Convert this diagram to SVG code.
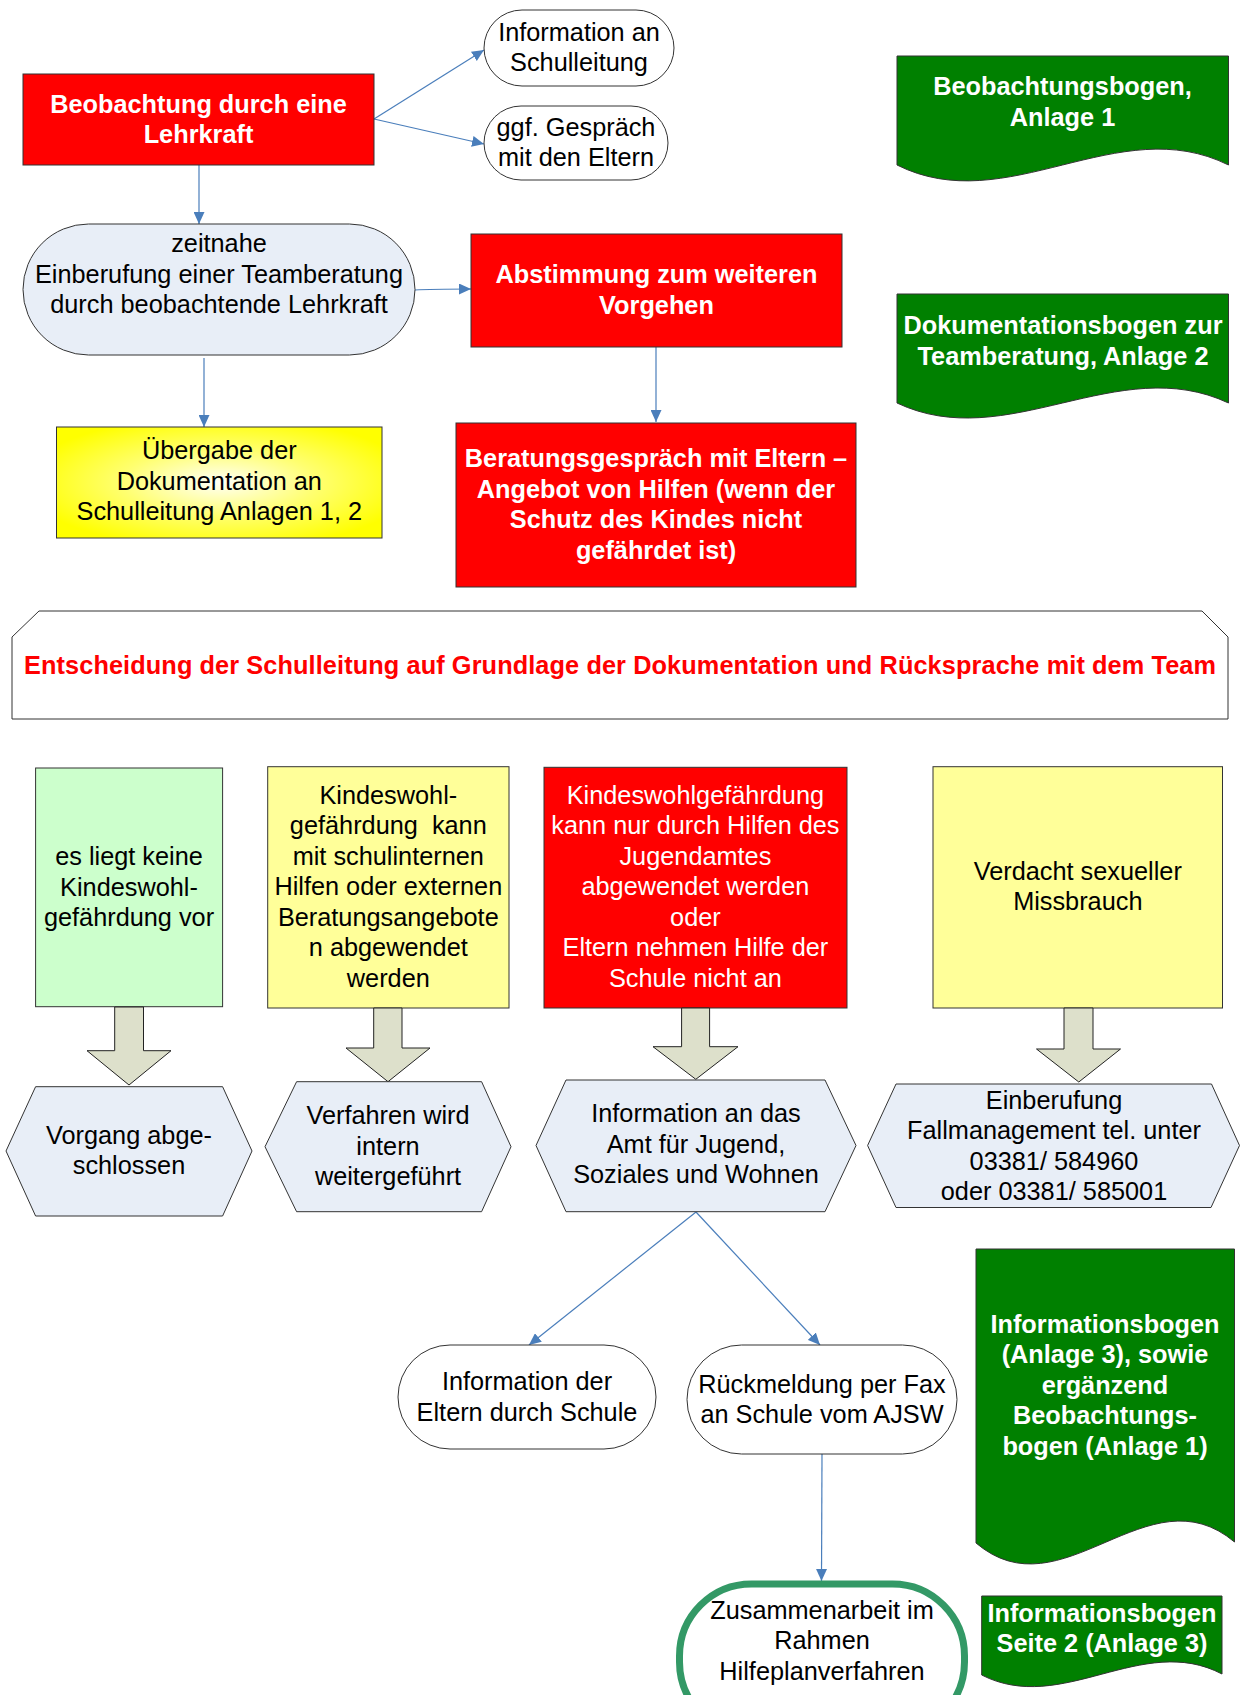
<svg xmlns="http://www.w3.org/2000/svg" width="1240" height="1695" viewBox="0 0 1240 1695">
<style>
text{font-family:"Liberation Sans",Arial,sans-serif;font-size:25.3px;text-anchor:middle}
.b{font-weight:bold}
.w{fill:#FFFFFF}
.k{fill:#000000}
.r{fill:#FF0000}
.pre{white-space:pre}
.red{fill:#FF0000;stroke:#333333;stroke-width:1}
.grn{fill:#008000;stroke:#333333;stroke-width:1}
.lb{fill:#E8EEF7;stroke:#333333;stroke-width:1}
.wh{fill:#FFFFFF;stroke:#333333;stroke-width:1}
.ba{fill:#DDE0CB;stroke:#222222;stroke-width:1}
.con{fill:none;stroke:#4A7EBB;stroke-width:1.2}
</style>
<defs>
<marker id="ah" markerUnits="userSpaceOnUse" markerWidth="12" markerHeight="11" refX="12" refY="5.5" orient="auto">
<path d="M0,0 L12,5.5 L0,11 z" fill="#4A7EBB"/>
</marker>
<radialGradient id="yg" cx="50%" cy="50%" r="60%">
<stop offset="0" stop-color="#FFFFF8"/>
<stop offset="0.5" stop-color="#FFFF70"/>
<stop offset="1" stop-color="#FFFF00"/>
</radialGradient>
</defs>

<g id="connectors">
<line class="con" x1="374" y1="119" x2="484" y2="50" marker-end="url(#ah)"/>
<line class="con" x1="374" y1="119" x2="484" y2="144" marker-end="url(#ah)"/>
<line class="con" x1="199" y1="165" x2="199" y2="224" marker-end="url(#ah)"/>
<path class="con" d="M415,290 Q430,289 471,289" marker-end="url(#ah)"/>
<line class="con" x1="204" y1="358" x2="204" y2="427" marker-end="url(#ah)"/>
<line class="con" x1="656" y1="347" x2="656" y2="422" marker-end="url(#ah)"/>
<line class="con" x1="696" y1="1212" x2="529" y2="1345" marker-end="url(#ah)"/>
<line class="con" x1="696" y1="1212" x2="820" y2="1345" marker-end="url(#ah)"/>
<line class="con" x1="822" y1="1454" x2="821.5" y2="1581" marker-end="url(#ah)"/>
</g>

<g id="n-beobachtung">
<rect class="red" x="23" y="74" width="351" height="91"/>
<text class="b w" x="198.5" y="112.5">Beobachtung durch eine</text>
<text class="b w" x="198.5" y="143">Lehrkraft</text>
</g>

<g id="n-info-schulleitung">
<rect class="wh" x="484" y="10" width="190" height="76" rx="38" ry="38"/>
<text class="k" x="579" y="40.5">Information an</text>
<text class="k" x="579" y="70.5">Schulleitung</text>
</g>

<g id="n-gespraech-eltern">
<rect class="wh" x="484" y="106" width="184" height="74" rx="37" ry="37"/>
<text class="k" x="576" y="135.5">ggf. Gespräch</text>
<text class="k" x="576" y="165.5">mit den Eltern</text>
</g>

<g id="n-beobachtungsbogen">
<path class="grn" d="M897,56 H1228.5 V165 C1118,110 1007,220 897,165 Z"/>
<text class="b w" x="1062.5" y="94.5">Beobachtungsbogen,</text>
<text class="b w" x="1062.5" y="125.5">Anlage 1</text>
</g>

<g id="n-teamberatung">
<rect class="lb" x="23" y="224" width="392" height="131" rx="65.5" ry="65.5"/>
<text class="k" x="219" y="252">zeitnahe</text>
<text class="k" x="219" y="282.5">Einberufung einer Teamberatung</text>
<text class="k" x="219" y="313">durch beobachtende Lehrkraft</text>
</g>

<g id="n-abstimmung">
<rect class="red" x="471" y="234" width="371" height="113"/>
<text class="b w" x="656.5" y="283">Abstimmung zum weiteren</text>
<text class="b w" x="656.5" y="313.5">Vorgehen</text>
</g>

<g id="n-dokumentationsbogen">
<path class="grn" d="M897,294 H1228.5 V403 C1118,351 1007,455 897,403 Z"/>
<text class="b w" x="1063" y="333.5">Dokumentationsbogen zur</text>
<text class="b w" x="1063" y="364.5">Teamberatung, Anlage 2</text>
</g>

<g id="n-uebergabe">
<rect x="56.5" y="427" width="325.5" height="111" fill="url(#yg)" stroke="#333333" stroke-width="1"/>
<text class="k" x="219.3" y="459">Übergabe der</text>
<text class="k" x="219.3" y="489.5">Dokumentation an</text>
<text class="k" x="219.3" y="520">Schulleitung Anlagen 1, 2</text>
</g>

<g id="n-beratungsgespraech">
<rect class="red" x="456" y="423" width="400" height="164"/>
<text class="b w" x="656" y="466.5">Beratungsgespräch mit Eltern –</text>
<text class="b w" x="656" y="497.5">Angebot von Hilfen (wenn der</text>
<text class="b w" x="656" y="528">Schutz des Kindes nicht</text>
<text class="b w" x="656" y="558.5">gefährdet ist)</text>
</g>

<g id="n-entscheidung">
<path d="M12,637 L39,611 H1202 L1228,637 V719 H12 Z" fill="#FFFFFF" stroke="#333333" stroke-width="1"/>
<text class="b r" x="620" y="674" textLength="1192" lengthAdjust="spacing">Entscheidung der Schulleitung auf Grundlage der Dokumentation und Rücksprache mit dem Team</text>
</g>

<g id="n-keine-gefaehrdung">
<rect x="35.6" y="768" width="187" height="238.7" fill="#CCFFCC" stroke="#333333" stroke-width="1"/>
<text class="k" x="129" y="865">es liegt keine</text>
<text class="k" x="129" y="895.5">Kindeswohl-</text>
<text class="k" x="129" y="926">gefährdung vor</text>
</g>

<g id="n-schulintern">
<rect x="267.7" y="766.7" width="241.3" height="241.3" fill="#FFFF99" stroke="#333333" stroke-width="1"/>
<text class="k" x="388.3" y="803.5">Kindeswohl-</text>
<text class="k pre" x="388.3" y="834">gefährdung  kann</text>
<text class="k" x="388.3" y="864.5">mit schulinternen</text>
<text class="k" x="388.3" y="895">Hilfen oder externen</text>
<text class="k" x="388.3" y="925.5">Beratungsangebote</text>
<text class="k" x="388.3" y="956">n abgewendet</text>
<text class="k" x="388.3" y="986.5">werden</text>
</g>

<g id="n-jugendamt">
<rect class="red" x="544" y="767.3" width="303" height="240.7"/>
<text class="w" x="695.4" y="803.5">Kindeswohlgefährdung</text>
<text class="w" x="695.4" y="834">kann nur durch Hilfen des</text>
<text class="w" x="695.4" y="864.5">Jugendamtes</text>
<text class="w" x="695.4" y="895">abgewendet werden</text>
<text class="w" x="695.4" y="925.5">oder</text>
<text class="w" x="695.4" y="956">Eltern nehmen Hilfe der</text>
<text class="w" x="695.4" y="986.5">Schule nicht an</text>
</g>

<g id="n-verdacht">
<rect x="933" y="766.7" width="289.5" height="241.3" fill="#FFFF99" stroke="#333333" stroke-width="1"/>
<text class="k" x="1077.8" y="879.5">Verdacht sexueller</text>
<text class="k" x="1077.8" y="910">Missbrauch</text>
</g>

<g id="block-arrows">
<polygon class="ba" points="114.7,1007 143.5,1007 143.5,1050.7 171,1050.7 129,1085 87,1050.7 114.7,1050.7"/>
<polygon class="ba" points="373.7,1008 402,1008 402,1048 430,1048 388,1081.7 346,1048 373.7,1048"/>
<polygon class="ba" points="681.6,1008 709.6,1008 709.6,1046.7 738,1046.7 695.8,1079.3 653,1046.7 681.6,1046.7"/>
<polygon class="ba" points="1064,1008 1093,1008 1093,1049 1120.5,1049 1078.8,1082 1036.5,1049 1064,1049"/>
</g>

<g id="n-abgeschlossen">
<polygon class="lb" points="6,1151 35.6,1086.7 222.6,1086.7 252,1151 222.6,1216 35.6,1216"/>
<text class="k" x="129" y="1143.5">Vorgang abge-</text>
<text class="k" x="129" y="1174">schlossen</text>
</g>

<g id="n-intern">
<polygon class="lb" points="265,1146.7 296.6,1081.7 481.6,1081.7 511,1146.7 481.6,1211.7 296.6,1211.7"/>
<text class="k" x="388" y="1123.5">Verfahren wird</text>
<text class="k" x="388" y="1154.5">intern</text>
<text class="k" x="388" y="1185">weitergeführt</text>
</g>

<g id="n-amt">
<polygon class="lb" points="536,1145.5 566,1080 825,1080 856,1145.5 825,1211.7 566,1211.7"/>
<text class="k" x="696" y="1122">Information an das</text>
<text class="k" x="696" y="1152.5">Amt für Jugend,</text>
<text class="k" x="696" y="1183">Soziales und Wohnen</text>
</g>

<g id="n-fallmanagement">
<polygon class="lb" points="867.6,1145.5 896,1084 1211.5,1084 1239.5,1145.5 1211,1207.5 896,1207.5"/>
<text class="k" x="1054" y="1108.5">Einberufung</text>
<text class="k" x="1054" y="1139">Fallmanagement tel. unter</text>
<text class="k" x="1054" y="1169.5">03381/ 584960</text>
<text class="k" x="1054" y="1200">oder 03381/ 585001</text>
</g>

<g id="n-info-eltern">
<rect class="wh" x="398" y="1345" width="258" height="104" rx="52" ry="52"/>
<text class="k" x="527" y="1390">Information der</text>
<text class="k" x="527" y="1420.5">Eltern durch Schule</text>
</g>

<g id="n-rueckmeldung">
<rect class="wh" x="687" y="1345" width="270" height="109" rx="54.5" ry="54.5"/>
<text class="k" x="822" y="1392.5">Rückmeldung per Fax</text>
<text class="k" x="822" y="1422.5">an Schule vom AJSW</text>
</g>

<g id="n-informationsbogen-1">
<path class="grn" d="M976,1249 H1234.5 V1542 C1148,1469 1062,1616 976,1543 Z"/>
<text class="b w" x="1105" y="1332.5">Informationsbogen</text>
<text class="b w" x="1105" y="1363">(Anlage 3), sowie</text>
<text class="b w" x="1105" y="1393.5">ergänzend</text>
<text class="b w" x="1105" y="1424">Beobachtungs-</text>
<text class="b w" x="1105" y="1454.5">bogen (Anlage 1)</text>
</g>

<g id="n-zusammenarbeit">
<rect x="679.5" y="1584" width="285" height="150" rx="72" ry="72" fill="#FFFFFF" stroke="#339966" stroke-width="7"/>
<text class="k" x="822" y="1618.5">Zusammenarbeit im</text>
<text class="k" x="822" y="1649">Rahmen</text>
<text class="k" x="822" y="1679.5">Hilfeplanverfahren</text>
</g>

<g id="n-informationsbogen-2">
<path class="grn" d="M981.7,1596 H1222 V1674 C1142,1632 1062,1716 981.7,1675 Z"/>
<text class="b w" x="1102" y="1621.5">Informationsbogen</text>
<text class="b w" x="1102" y="1652">Seite 2 (Anlage 3)</text>
</g>
</svg>
